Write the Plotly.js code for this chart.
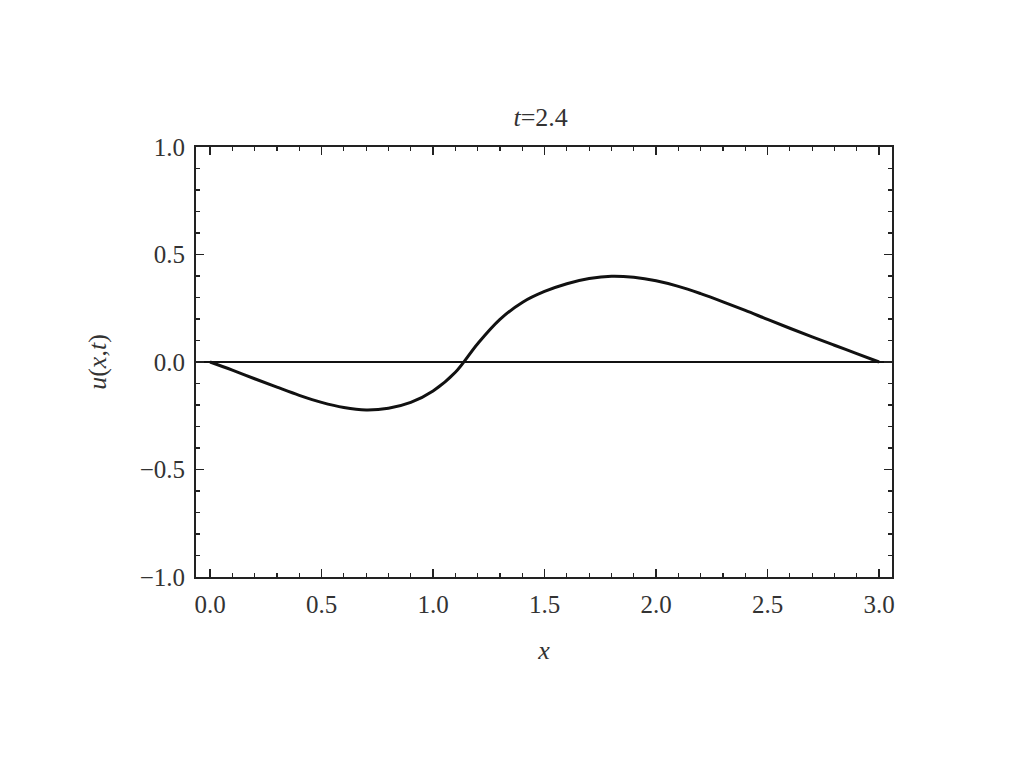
<!DOCTYPE html>
<html>
<head>
<meta charset="utf-8">
<script src="https://cdn.plot.ly/plotly-3.0.1.min.js"></script>
<style>
html,body{margin:0;padding:0;background:#fff;}
#chart{width:1024px;height:768px;}
</style>
</head>
<body>
<div id="chart"></div>
<script>
// Values
const xValues = [0, 0.1, 0.2, 0.3, 0.4, 0.5, 0.6, 0.7, 0.8, 0.9, 1.0, 1.1, 1.2, 1.3, 1.4, 1.5, 1.6, 1.7, 1.8, 1.9, 2.0, 2.1, 2.2, 2.3, 2.4, 2.5, 2.6, 2.7, 2.8, 2.9, 3.0];
const uValues = [0, -0.038, -0.078, -0.117, -0.155, -0.188, -0.212, -0.223, -0.215, -0.188, -0.135, -0.048, 0.085, 0.198, 0.277, 0.328, 0.364, 0.388, 0.399, 0.394, 0.378, 0.352, 0.318, 0.280, 0.240, 0.198, 0.157, 0.117, 0.078, 0.039, 0];
const xTickVals = [0, 0.5, 1.0, 1.5, 2.0, 2.5, 3.0];
const xTickText = ["0.0", "0.5", "1.0", "1.5", "2.0", "2.5", "3.0"];
const yTickVals = [-1.0, -0.5, 0, 0.5, 1.0];
const yTickText = ["\u22121.0", "\u22120.5", "0.0", "0.5", "1.0"];
const titleText = "<i>t</i>=2.4";
const xTitle = "<i>x</i>";
const yTitle = "<i>u</i>(<i>x</i>,<i>t</i>)";

const serif = "'Liberation Serif', 'Times New Roman', serif";

const trace = {
  x: xValues,
  y: uValues,
  type: "scatter",
  mode: "lines",
  line: {color: "#111", width: 3, shape: "spline", smoothing: 1},
  hoverinfo: "skip",
  showlegend: false
};

const axisCommon = {
  showgrid: false,
  showline: true,
  linecolor: "#222",
  linewidth: 2,
  mirror: "ticks",
  ticks: "inside",
  ticklen: 8,
  tickwidth: 1.5,
  tickcolor: "#222",
  automargin: true,
  tickfont: {family: serif, size: 25, color: "#333"},
  minor: {ticks: "inside", ticklen: 4, tickwidth: 1.2, tickcolor: "#222", dtick: 0.1, showgrid: false}
};

const layout = {
  width: 1024,
  height: 768,
  paper_bgcolor: "#fff",
  plot_bgcolor: "#fff",
  margin: {l: 196, r: 132, t: 147, b: 191},
  title: {text: titleText, font: {family: serif, size: 26, color: "#333"}, x: 0.5280, xanchor: "center", y: 0.848, yanchor: "middle"},
  xaxis: Object.assign({}, axisCommon, {
    range: [-0.063, 3.058],
    tickmode: "array",
    tickvals: xTickVals,
    ticktext: xTickText,
    ticklabelstandoff: 4,
    zeroline: false,
    title: {text: xTitle, font: {family: serif, size: 26, color: "#333"}, standoff: 24}
  }),
  yaxis: Object.assign({}, axisCommon, {
    range: [-1, 1],
    tickmode: "array",
    tickvals: yTickVals,
    ticktext: yTickText,
    ticklabelstandoff: 4,
    zeroline: true,
    zerolinecolor: "#111",
    zerolinewidth: 1.5,
    title: {text: yTitle, font: {family: serif, size: 26, color: "#333"}, standoff: 26}
  })
};

Plotly.newPlot("chart", [trace], layout, {displayModeBar: false, staticPlot: true});
</script>
</body>
</html>
